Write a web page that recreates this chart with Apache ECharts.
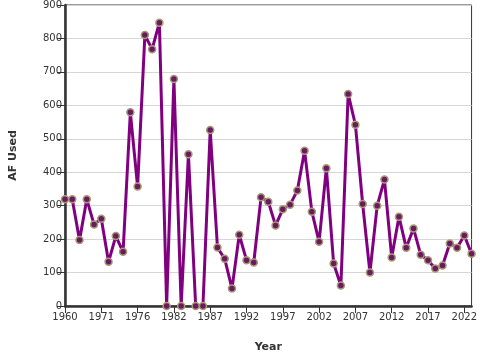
<!DOCTYPE html>
<html><head><meta charset="utf-8">
<script src="https://cdn.jsdelivr.net/npm/echarts@6/dist/echarts.min.js"></script>
<style>html,body{margin:0;padding:0;background:#fff}#c{width:480px;height:360px}</style>
</head><body><div id="c"></div>
<script>
var years = ['1960','1963','1965','1967','1969','1971','1972','1973','1974','1975','1976','1977','1978','1979','1980','1982','1983','1984','1985','1986','1987','1988','1989','1990','1991','1992','1993','1994','1995','1996','1997','1998','1999','2000','2001','2002','2003','2004','2005','2006','2007','2008','2009','2010','2011','2012','2013','2014','2015','2016','2017','2018','2019','2020','2021','2022','2023'];
var afUsed = [319,319,197,319,244,261,132,209,162,579,357,810,768,847,0,679,0,454,0,0,526,175,141,52,213,137,130,325,312,241,289,303,345,464,282,192,412,127,61,634,542,305,100,300,378,145,267,174,232,153,137,112,121,187,174,211,156];
var yTicks = [0,100,200,300,400,500,600,700,800,900];
var chart = echarts.init(document.getElementById('c'), null, {renderer:'canvas'});
var font = 'DejaVu Sans';
chart.setOption({
  animation:false,
  backgroundColor:'#fff',
  grid:{left:63,right:5,top:4,bottom:54,show:true,borderColor:'#333',borderWidth:1,backgroundColor:'transparent'},
  xAxis:{
    type:'category', data:years, boundaryGap:false,
    name:'Year', nameLocation:'middle', nameGap:36,
    nameTextStyle:{fontFamily:font,fontSize:11,fontWeight:'bold',color:'#333'},
    axisLine:{lineStyle:{color:'#333',width:2.5}},
    axisTick:{interval:4,length:7,lineStyle:{color:'#333',width:1}},
    axisLabel:{interval:4,fontFamily:font,fontSize:10,color:'#333',margin:6},
    splitLine:{show:false}
  },
  yAxis:{
    type:'value', min:yTicks[0], max:yTicks[yTicks.length-1], interval:100,
    name:'AF Used', nameLocation:'middle', nameGap:46,
    nameTextStyle:{fontFamily:font,fontSize:11,fontWeight:'bold',color:'#333'},
    axisLine:{show:true,lineStyle:{color:'#333',width:2.5}},
    axisTick:{show:true,length:8,lineStyle:{color:'#333',width:1}},
    axisLabel:{fontFamily:font,fontSize:10,color:'#333',margin:3},
    splitLine:{show:true,lineStyle:{color:'#d6d6d6',width:1}}
  },
  series:[{
    type:'line', data:afUsed, showAllSymbol:true,
    lineStyle:{color:'#800080',width:3},
    symbol:'circle', symbolSize:7,
    itemStyle:{color:'#6a1b5e',borderColor:'#a89a78',borderWidth:1.5},
    z:5
  }]
});
</script></body></html>
